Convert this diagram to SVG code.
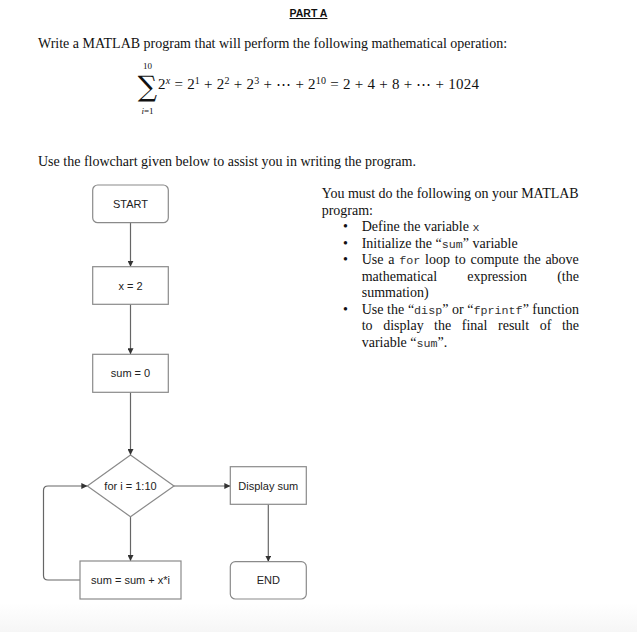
<svg xmlns="http://www.w3.org/2000/svg" width="637" height="632" viewBox="0 0 637 632">
<defs>
<linearGradient id="band" x1="0" y1="0" x2="0" y2="1">
<stop offset="0" stop-color="#ffffff"/>
<stop offset="1" stop-color="#f6f6f6"/>
</linearGradient>
<marker id="arr" viewBox="0 0 8 8" refX="8" refY="4" markerWidth="6" markerHeight="6" markerUnits="userSpaceOnUse" orient="auto">
<path d="M0,0 L8,4 L0,8 z" fill="#333"/>
</marker>
<style>
.doc{font-family:"Liberation Serif","Times New Roman",serif;font-size:14px;fill:#111}
.mono{font-family:"Liberation Mono","Courier New",monospace;font-size:11.7px;fill:#333}
.math{font-family:"Liberation Serif","DejaVu Serif",serif;fill:#111}
.box{fill:#fff;stroke:#8a8a8a;stroke-width:1.2}
.lbl{font-family:"Liberation Sans",Arial,sans-serif;font-size:11px;fill:#222;text-anchor:middle}
.con{fill:none;stroke:#666;stroke-width:1.2;marker-end:url(#arr)}
</style>
</defs>
<rect width="637" height="632" fill="#fff"/>
<rect x="0" y="603" width="637" height="29" fill="url(#band)"/>

<text x="308.5" y="17" text-anchor="middle" font-family="'Liberation Sans',Arial,sans-serif" font-weight="bold" font-size="10.5" fill="#111" text-decoration="underline">PART A</text>

<text class="doc" x="38" y="48">Write a MATLAB program that will perform the following mathematical operation:</text>

<g class="math">
<text x="147.5" y="69" font-size="9" text-anchor="middle">10</text>
<text transform="translate(147.5,95.5) scale(1,1.05)" x="0" y="0" font-size="27" text-anchor="middle" font-family="'DejaVu Serif',serif">∑</text>
<text x="147.5" y="114" font-size="9" text-anchor="middle"><tspan font-style="italic">i</tspan>=1</text>
<text x="158" y="89" font-size="15" textLength="321" lengthAdjust="spacing">2<tspan dy="-5.5" font-size="10" font-style="italic">x</tspan><tspan dy="5.5"> = 2</tspan><tspan dy="-5.5" font-size="10">1</tspan><tspan dy="5.5"> + 2</tspan><tspan dy="-5.5" font-size="10">2</tspan><tspan dy="5.5"> + 2</tspan><tspan dy="-5.5" font-size="10">3</tspan><tspan dy="5.5"> + ⋯ + 2</tspan><tspan dy="-5.5" font-size="10">10</tspan><tspan dy="5.5"> = 2 + 4 + 8 + ⋯ + 1024</tspan></text>
</g>

<text class="doc" x="38" y="166">Use the flowchart given below to assist you in writing the program.</text>

<g class="doc">
<text x="321.7" y="198" textLength="257" lengthAdjust="spacingAndGlyphs">You must do the following on your MATLAB</text>
<text x="321.7" y="214.5">program:</text>
<text x="343" y="231">•</text>
<text x="361.7" y="231">Define the variable <tspan class="mono">x</tspan></text>
<text x="343" y="247.5">•</text>
<text x="361.7" y="247.5">Initialize the “<tspan class="mono">sum</tspan>” variable</text>
<text x="343" y="264">•</text>
<text y="264"><tspan x="361.7">Use</tspan><tspan x="388.3">a</tspan><tspan x="399.3" class="mono">for</tspan><tspan x="425.1">loop</tspan><tspan x="454.8">to</tspan><tspan x="470.5">compute</tspan><tspan x="523.5">the</tspan><tspan x="545.4">above</tspan></text>
<text y="280.5"><tspan x="361.7">mathematical</tspan><tspan x="467.2">expression</tspan><tspan x="557.2">(the</tspan></text>
<text x="361.7" y="297">summation)</text>
<text x="343" y="313.5">•</text>
<text y="313.5"><tspan x="361.7">Use</tspan><tspan x="387.1">the</tspan><tspan x="407.9">“</tspan><tspan class="mono">disp</tspan><tspan>”</tspan><tspan x="452">or</tspan><tspan x="467.3">“</tspan><tspan class="mono">fprintf</tspan><tspan>”</tspan><tspan x="532.3">function</tspan></text>
<text y="330"><tspan x="361.7">to</tspan><tspan x="383.2">display</tspan><tspan x="434.1">the</tspan><tspan x="461.8">final</tspan><tspan x="498">result</tspan><tspan x="539.7">of</tspan><tspan x="561.9">the</tspan></text>
<text x="361.7" y="346.5">variable “<tspan class="mono">sum</tspan>”.</text>
</g>

<g id="connectors">
<line class="con" x1="130.5" y1="222.7" x2="130.5" y2="266.7"/>
<line class="con" x1="130.5" y1="304.3" x2="130.5" y2="354.3"/>
<line class="con" x1="130.5" y1="392.3" x2="130.5" y2="455"/>
<line class="con" x1="130.5" y1="516.7" x2="130.5" y2="561"/>
<line class="con" x1="174" y1="486" x2="230.3" y2="486"/>
<line class="con" x1="268.3" y1="504.3" x2="268.3" y2="561.7"/>
<path class="con" d="M80,580 H48 Q43.5,580 43.5,575.5 V490.5 Q43.5,486 48,486 H87.3"/>
</g>

<g id="start">
<rect class="box" x="92.7" y="185" width="75.6" height="37.7" rx="5"/>
<text class="lbl" x="130.5" y="207.5">START</text>
</g>
<g id="x2">
<rect class="box" x="92.7" y="266.7" width="75.6" height="37.6"/>
<text class="lbl" x="130.5" y="289.5">x = 2</text>
</g>
<g id="sum0">
<rect class="box" x="92.7" y="354.3" width="75.6" height="38"/>
<text class="lbl" x="130.5" y="377">sum = 0</text>
</g>
<g id="loop">
<polygon class="box" points="130.5,455 174,486 130.5,516.7 87.3,486"/>
<text class="lbl" x="130.5" y="490">for i = 1:10</text>
</g>
<g id="display">
<rect class="box" x="230.3" y="466.7" width="76" height="37.6"/>
<text class="lbl" x="268.3" y="489.5">Display sum</text>
</g>
<g id="update">
<rect class="box" x="80" y="561" width="101" height="38"/>
<text class="lbl" x="130.5" y="584">sum = sum + x*i</text>
</g>
<g id="end">
<rect class="box" x="230.3" y="561.7" width="76" height="37.3" rx="5"/>
<text class="lbl" x="268.3" y="584">END</text>
</g>
</svg>
